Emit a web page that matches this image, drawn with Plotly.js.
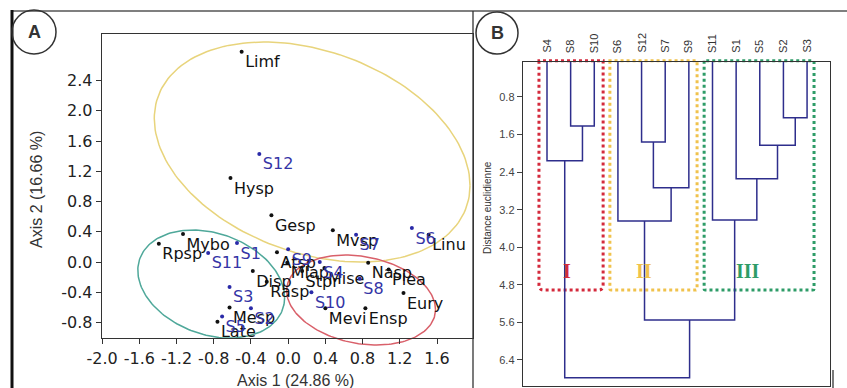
<!DOCTYPE html>
<html><head><meta charset="utf-8">
<script src="https://cdn.plot.ly/plotly-3.0.1.min.js"></script>
<style>html,body{margin:0;padding:0;background:#fff;}</style>
</head><body>
<div id="chart" style="width:847px;height:388px;"></div>
<script>
// ---------- Panel A: species (black points) ----------
const speciesNames = ['Limf','Hysp','Gesp','Mvsp','Linu','Mybo','Rpsp','Disp','Rasp','Mesp','Late','Atsp','Mlap','Stpr','Mise','Nasp','Plea','Eury','Ensp','Mevi'];
const speciesX = [-0.50,-0.62,-0.18,0.48,1.51,-1.13,-1.39,-0.38,-0.23,-0.63,-0.76,-0.12,-0.01,0.15,0.39,0.86,1.08,1.24,0.83,0.40];
const speciesY = [2.78,1.11,0.62,0.42,0.36,0.37,0.24,-0.12,-0.26,-0.60,-0.79,0.13,-0.01,-0.12,-0.08,-0.01,-0.10,-0.41,-0.61,-0.61];

// ---------- Panel A: sites (blue points) ----------
const siteNames = ['S1','S2','S3','S4','S5','S6','S7','S8','S9','S10','S11','S12'];
const siteX = [-0.55,-0.40,-0.63,0.34,-0.71,1.33,0.73,0.77,0.00,0.25,-0.86,-0.31];
const siteY = [0.25,-0.61,-0.33,0.00,-0.72,0.45,0.36,-0.22,0.17,-0.40,0.12,1.43];

// ---------- Panel A: group ellipses (centre, half-extent, correlation) ----------
const ellipseCX = [0.258,-0.827,0.784];
const ellipseCY = [1.455,-0.291,-0.503];
const ellipseSX = [1.697,0.789,0.800];
const ellipseSY = [1.455,0.714,0.595];
const ellipseRho = [-0.305,-0.252,-0.209];
const ellipseColors = ['#e8d47c','#4fa89a','#d9606a'];

// ---------- Panel A ticks ----------
const xTickVals = [-2.0,-1.6,-1.2,-0.8,-0.4,0.0,0.4,0.8,1.2,1.6];
const xTickText = ['-2.0','-1.6','-1.2','-0.8','-0.4','0.0','0.4','0.8','1.2','1.6'];
const yTickVals = [-0.8,-0.4,0.0,0.4,0.8,1.2,1.6,2.0,2.4];
const yTickText = ['-0.8','-0.4','0.0','0.4','0.8','1.2','1.6','2.0','2.4'];

// ---------- Panel B: dendrogram ----------
const leafLabels = ['S4','S8','S10','S6','S12','S7','S9','S11','S1','S5','S2','S3'];
// merges: node ids start at 12 (leaf count)
const mergeLeft   = [1, 0, 4, 14, 3, 10, 9, 8, 7, 16, 13];
const mergeRight  = [2, 12, 5, 6, 15, 11, 17, 18, 19, 20, 21];
const mergeHeight = [1.42, 2.16, 1.76, 2.73, 3.44, 1.24, 1.83, 2.54, 3.42, 5.55, 6.78];
const dTickVals = [0.8,1.6,2.4,3.2,4.0,4.8,5.6,6.4];
const dTickText = ['0.8','1.6','2.4','3.2','4.0','4.8','5.6','6.4'];
const clusterLabels = ['I','II','III'];
const clusterColors = ['#d42a3c','#f0c24c','#2e9c68'];

// ---------- build ellipse traces ----------
const traces = [];
for (let k = 0; k < ellipseCX.length; k++) {
  const ex = [], ey = [];
  const r = ellipseRho[k], s = Math.sqrt(1 - r * r);
  for (let i = 0; i <= 180; i++) {
    const t = 2 * Math.PI * i / 180;
    ex.push(ellipseCX[k] + ellipseSX[k] * Math.cos(t));
    ey.push(ellipseCY[k] + ellipseSY[k] * (r * Math.cos(t) + s * Math.sin(t)));
  }
  traces.push({x: ex, y: ey, xaxis: 'x', yaxis: 'y', mode: 'lines',
    line: {color: ellipseColors[k], width: 1.5}, hoverinfo: 'skip', showlegend: false});
}

// ---------- build dendrogram ----------
const nodeX = leafLabels.map((_, i) => i);
const nodeH = leafLabels.map(() => 0);
const dx = [], dy = [];
for (let m = 0; m < mergeHeight.length; m++) {
  const a = mergeLeft[m], b = mergeRight[m], h = mergeHeight[m];
  dx.push(nodeX[a], nodeX[a], nodeX[b], nodeX[b], null);
  dy.push(nodeH[a], h, h, nodeH[b], null);
  nodeX.push((nodeX[a] + nodeX[b]) / 2);
  nodeH.push(h);
}
traces.push({x: dx, y: dy, xaxis: 'x2', yaxis: 'y2', mode: 'lines',
  line: {color: '#2e2e8c', width: 1.5}, hoverinfo: 'skip', showlegend: false, connectgaps: false});

// ---------- scatter points ----------
traces.push({x: speciesX, y: speciesY, text: speciesNames, xaxis: 'x3', yaxis: 'y3',
  mode: 'markers+text', textposition: 'bottom right', cliponaxis: false,
  marker: {color: '#111', size: 4}, textfont: {family: 'DejaVu Sans', size: 16, color: '#111'},
  hoverinfo: 'skip', showlegend: false});
traces.push({x: siteX, y: siteY, text: siteNames, xaxis: 'x3', yaxis: 'y3',
  mode: 'markers+text', textposition: 'bottom right', cliponaxis: false,
  marker: {color: '#2a2aa8', size: 4}, textfont: {family: 'DejaVu Sans', size: 16, color: '#3434a6'},
  hoverinfo: 'skip', showlegend: false});

const W = 847, H = 388;
const px = v => v / W, py = v => 1 - v / H;

const annotations = [];
leafLabels.forEach((lab, i) => annotations.push({
  text: lab, x: i, xref: 'x2', y: py(55), yref: 'paper', xanchor: 'center', yanchor: 'bottom',
  textangle: -90, showarrow: false, font: {family: 'Liberation Sans', size: 11, color: '#333'}
}));
const clusterXpx = [567, 644, 748];
clusterLabels.forEach((lab, i) => annotations.push({
  text: '<b>' + lab + '</b>', x: px(clusterXpx[i]), y: py(271), xref: 'paper', yref: 'paper',
  xanchor: 'center', yanchor: 'middle',
  showarrow: false, font: {family: 'Liberation Serif', size: 20, color: clusterColors[i]}
}));
function paperText(text, xp, yp, size, angle, family) {
  return {text: text, x: px(xp), y: py(yp), xref: 'paper', yref: 'paper', xanchor: 'center', yanchor: 'middle',
    showarrow: false, textangle: angle || 0, font: {family: family || 'Liberation Sans', size: size, color: '#333'}};
}
annotations.push(
  paperText('<b>A</b>', 34, 32, 18),
  paperText('<b>B</b>', 497, 33, 18),
  paperText('Axis 1 (24.86 %)', 295, 380, 16),
  paperText('Axis 2 (16.66 %)', 36, 190, 16, -90),
  paperText('Distance euclidienne', 487, 208, 10, -90)
);

// dotted cluster boxes in x2/y2 domain fractions
function boxPath(x0, x1, y0, y1, rx, ry) {
  return `M${x0},${y1} L${x0},${y0 + ry} Q${x0},${y0} ${x0 + rx},${y0} L${x1 - rx},${y0} Q${x1},${y0} ${x1},${y0 + ry} L${x1},${y1} Z`;
}
const boxX0 = [0.052, 0.283, 0.590], boxX1 = [0.261, 0.567, 0.948];
const shapes = [];
for (let i = 0; i < 3; i++) {
  shapes.push({type: 'path', xref: 'x2 domain', yref: 'y2 domain',
    path: boxPath(boxX0[i], boxX1[i], 0.296, 1.004, i === 0 ? 0.016 : 0.004, i === 0 ? 0.015 : 0.004),
    line: {color: clusterColors[i], width: 3, dash: 'dot'}, layer: 'below'});
}
shapes.push(
  {type: 'line', xref: 'paper', yref: 'paper', x0: px(12), x1: 1, y0: py(11), y1: py(11), line: {color: '#555', width: 1.5}},
  {type: 'line', xref: 'paper', yref: 'paper', x0: px(12), x1: px(12), y0: py(10), y1: 0, line: {color: '#111', width: 3}},
  {type: 'line', xref: 'paper', yref: 'paper', x0: px(473), x1: px(473), y0: py(11), y1: 0, line: {color: '#333', width: 1.3}},
  {type: 'line', xref: 'paper', yref: 'paper', x0: px(833), x1: px(833), y0: py(370), y1: 0, line: {color: '#333', width: 1.3}},
  {type: 'circle', xref: 'paper', yref: 'paper', x0: px(12), x1: px(56), y0: py(10), y1: py(54), line: {color: '#333', width: 1.5}},
  {type: 'circle', xref: 'paper', yref: 'paper', x0: px(476), x1: px(518), y0: py(12), y1: py(54), line: {color: '#333', width: 1.5}}
);

const tickFontA = {family: 'DejaVu Sans', size: 16, color: '#222'};
const layout = {
  width: W, height: H, margin: {l: 0, r: 0, t: 0, b: 0},
  paper_bgcolor: '#fff', plot_bgcolor: 'rgba(0,0,0,0)', showlegend: false,
  xaxis: {domain: [px(102), px(473)], range: [-2.001, 1.987], visible: false, fixedrange: true},
  yaxis: {domain: [py(360), py(34)], range: [-1.296, 3.016], visible: false, fixedrange: true},
  xaxis3: {domain: [px(102), px(473)], range: [-2.001, 1.987], anchor: 'y3',
    tickvals: xTickVals, ticktext: xTickText, tickangle: 0, ticks: 'outside', ticklen: 5, tickcolor: '#333',
    showline: true, linecolor: '#333', linewidth: 1.3, mirror: true, showgrid: false, zeroline: false,
    tickfont: tickFontA},
  yaxis3: {domain: [py(338), py(34)], range: [-1.005, 3.016], anchor: 'x3',
    tickvals: yTickVals, ticktext: yTickText, ticks: 'outside', ticklen: 5, tickcolor: '#333',
    showline: true, linecolor: '#333', linewidth: 1.3, mirror: true, showgrid: false, zeroline: false,
    tickfont: tickFontA},
  xaxis2: {domain: [px(523), px(830)], range: [-1.015, 11.97], anchor: 'y2',
    showticklabels: false, ticks: '', showline: true, linecolor: '#333', linewidth: 1.3, mirror: true,
    showgrid: false, zeroline: false},
  yaxis2: {domain: [py(386), py(62)], range: [6.954, 0.055], anchor: 'x2',
    tickvals: dTickVals, ticktext: dTickText, ticks: 'outside', ticklen: 5, tickcolor: '#444',
    showline: true, linecolor: '#333', linewidth: 1.3, mirror: true, showgrid: false, zeroline: false,
    tickfont: {family: 'Liberation Sans', size: 11, color: '#444'}},
  annotations: annotations,
  shapes: shapes
};
Plotly.newPlot('chart', traces, layout, {staticPlot: true, displayModeBar: false});
</script>
</body></html>
